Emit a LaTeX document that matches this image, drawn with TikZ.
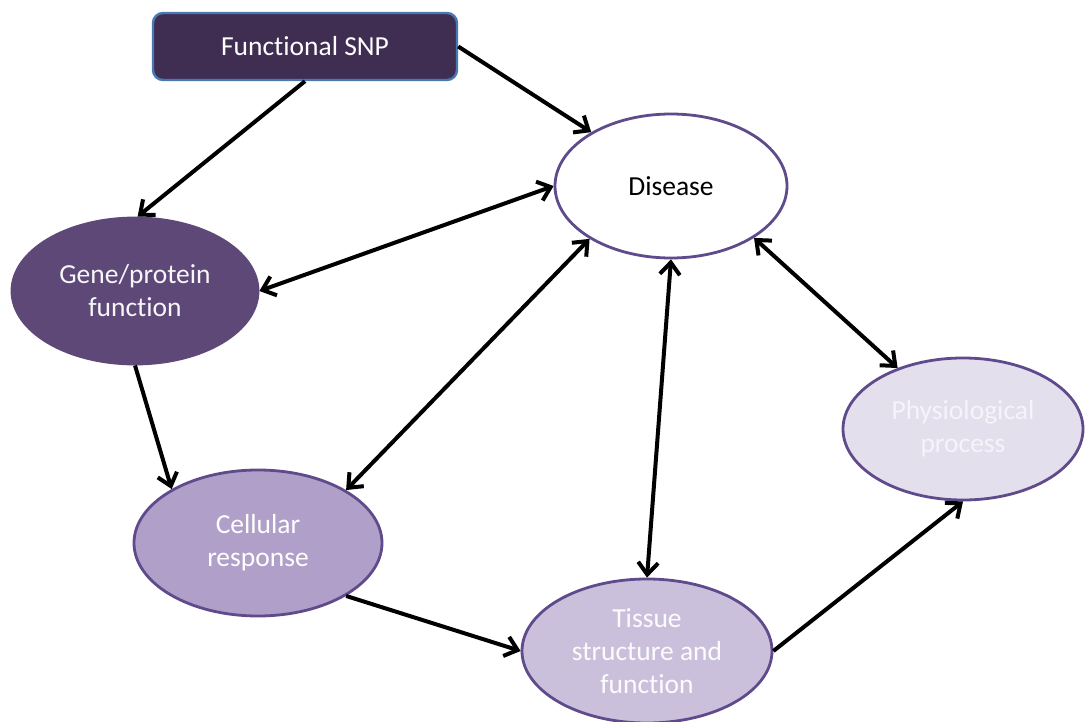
\documentclass[tikz,border=0pt]{standalone}
\usepackage{fontspec}
\setmainfont[Ligatures=NoCommon]{Carlito}
\usetikzlibrary{arrows.meta,shapes.geometric}

\definecolor{snpfill}{HTML}{402D52}
\definecolor{snpedge}{HTML}{4A78B0}
\definecolor{genefill}{HTML}{5E4878}
\definecolor{cellfill}{HTML}{B09FC8}
\definecolor{tissuefill}{HTML}{CBC0DC}
\definecolor{physiofill}{HTML}{E4DFED}
\definecolor{ovaledge}{HTML}{5F4B8B}
\definecolor{palefont}{HTML}{F6F3FA}

\tikzset{
  every node/.style={font=\fontsize{27.5}{33}\selectfont, align=center, inner sep=0pt},
  oval/.style={ellipse, draw=ovaledge, line width=2.8pt},
  barb/.tip={Straight Barb[length=12pt,width=20pt]},
  link/.style={line width=4pt, black, -barb},
  twoway/.style={line width=4pt, black, barb-barb}
}

\begin{document}
\begin{tikzpicture}[x=1pt,y=-1pt]
\useasboundingbox (0,0) rectangle (1085,722);

% boxes and ovals
\node[draw=snpedge, fill=snpfill, line width=2.4pt, rounded corners=10pt,
      minimum width=304pt, minimum height=67pt, text=white] (snp) at (305,46.5) {Functional SNP};
\node[oval, fill=white, minimum width=232pt, minimum height=144pt, text=black] (disease) at (671,186) {Disease};
\node[oval, draw=genefill, fill=genefill, minimum width=246pt, minimum height=146pt, text=white!95!genefill] (gene) at (135,291) {Gene/protein\\function};
\node[oval, fill=cellfill, minimum width=248pt, minimum height=146pt, text=white] (cell) at (258,543) {Cellular\\response};
\node[oval, fill=tissuefill, minimum width=250pt, minimum height=144pt, text=white!95!tissuefill] (tissue) at (647,651) {Tissue\\structure and\\function};
\node[oval, fill=physiofill, minimum width=240pt, minimum height=142pt, text=palefont] (physio) at (963,429) {Physiological\\process};

% one-way links
\draw[link] (snp.south) -- (gene.88);
\draw[link] (snp.east) -- (disease.146);
\draw[link] (gene.south) -- (cell.148);
\draw[link] (cell.-31) -- (tissue.west);
\draw[link] (tissue.east) -- (physio.south);

% two-way links
\draw[twoway] (disease.west) -- (gene.east);
\draw[twoway] (disease.213) -- (cell.31);
\draw[twoway] (disease.south) -- (tissue.north);
\draw[twoway] (disease.-32) -- (physio.137);
\end{tikzpicture}
\end{document}
